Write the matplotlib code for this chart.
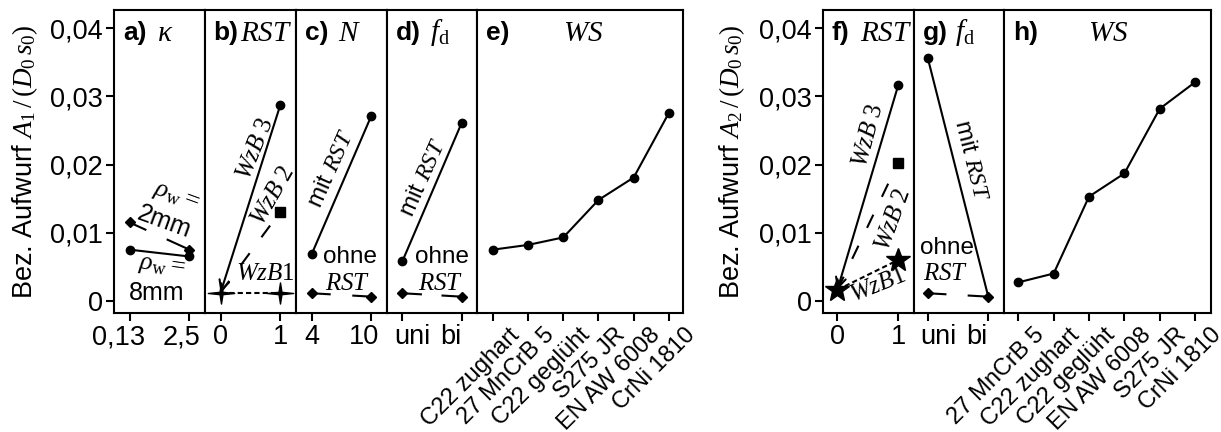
import numpy as np
import matplotlib
matplotlib.use("Agg")
import matplotlib.pyplot as plt
from matplotlib.path import Path
from matplotlib.transforms import ScaledTranslation

plt.rcParams["font.family"] = ["Liberation Sans", "DejaVu Sans"]
plt.rcParams["mathtext.fontset"] = "custom"
plt.rcParams["mathtext.rm"] = "Liberation Serif"
plt.rcParams["mathtext.it"] = "Liberation Serif:italic"
plt.rcParams["mathtext.bf"] = "Liberation Serif:bold"

# ---------------- data: left figure (A1) ----------------
kappa_ticks = ["0,13", "2,5"]
kappa_8mm = [0.0075, 0.0065]
kappa_2mm = [0.0115, 0.0075]

rst_ticks = ["0", "1"]
rst1_wzb3 = [0.0012, 0.0288]
rst1_wzb2 = [0.0012, 0.0131]
rst1_wzb1 = [0.0012, 0.0012]

n_ticks = ["4", "10"]
n_mit = [0.0068, 0.0272]
n_ohne = [0.0011, 0.0006]

fd_ticks = ["uni", "bi"]
fd1_mit = [0.0058, 0.0261]
fd1_ohne = [0.0011, 0.0006]

ws1_labels = ["C22 zughart", "27 MnCrB 5", "C22 geglüht", "S275 JR", "EN AW 6008", "CrNi 1810"]
ws1_values = [0.0075, 0.0082, 0.0093, 0.0148, 0.0181, 0.0276]

# ---------------- data: right figure (A2) ----------------
rst2_wzb3 = [0.0016, 0.0317]
rst2_wzb2 = [0.0016, 0.0203]
rst2_wzb1 = [0.0016, 0.0060]

fd2_mit = [0.0357, 0.0006]
fd2_ohne = [0.0011, 0.0006]

ws2_labels = ["27 MnCrB 5", "C22 zughart", "C22 geglüht", "EN AW 6008", "S275 JR", "CrNi 1810"]
ws2_values = [0.0027, 0.0040, 0.0153, 0.0187, 0.0282, 0.0321]

y_ticks = [0, 0.01, 0.02, 0.03, 0.04]
y_ticklabels = ["0", "0,01", "0,02", "0,03", "0,04"]

# ---------------- layout ----------------
W, H = 1221, 432
fig = plt.figure(figsize=(W / 100, H / 100), dpi=100)
TOP, BOT = 10, 313
YLIM = (-0.0018, 0.0427)
LW = 1.5
TICK_FS = 19.5
TXT_FS = 17.5
SER_FS = 18


def sparkle(n=4, inner=0.16, xstretch=1.25):
    k = np.arange(2 * n)
    ang = np.pi / 2 + k * np.pi / n
    r = np.where(k % 2 == 0, 1.0, inner)
    v = np.column_stack([xstretch * r * np.cos(ang), r * np.sin(ang)])
    v = np.vstack([v, v[:1]])
    return Path(v, closed=True)


SPARKLE = sparkle()


def panel(x0, x1, xlim, ticklabels, first=False, rotate=False, shifts=None):
    ax = fig.add_axes([x0 / W, 1 - BOT / H, (x1 - x0) / W, (BOT - TOP) / H])
    ax.set_xlim(*xlim)
    ax.set_ylim(*YLIM)
    for s in ax.spines.values():
        s.set_linewidth(LW)
    ax.set_xticks(range(len(ticklabels)))
    ax.tick_params(axis="both", direction="out", length=6, width=LW,
                   labelsize=TICK_FS, pad=2)
    if rotate:
        ax.set_xticklabels(ticklabels, rotation=45, ha="right",
                           rotation_mode="anchor", fontsize=17)
        shift = ScaledTranslation(11 / 72, 0, fig.dpi_scale_trans)
        for lab in ax.get_xticklabels():
            lab.set_transform(lab.get_transform() + shift)
    else:
        ax.set_xticklabels(ticklabels)
        if shifts:
            for lab, dx in zip(ax.get_xticklabels(), shifts):
                lab.set_transform(lab.get_transform()
                                  + ScaledTranslation(dx / 100, 0, fig.dpi_scale_trans))
    ax.set_yticks(y_ticks)
    if first:
        ax.set_yticklabels(y_ticklabels)
    else:
        ax.tick_params(axis="y", left=False, labelleft=False)
    return ax


def broken(ax, y, gap, **kw):
    """Line between the two points of y with a gap (fractions along the line)."""
    x = np.array([0.0, 1.0])
    y = np.asarray(y, float)
    for a, b in ((0.0, gap[0]), (gap[1], 1.0)):
        ax.plot(x[0] + np.array([a, b]) * (x[1] - x[0]),
                y[0] + np.array([a, b]) * (y[1] - y[0]), color="black", lw=LW,
                solid_capstyle="butt", **kw)


def arrow_line(ax, y, **kw):
    ax.annotate("", xy=(0, y[0]), xytext=(1, y[1]),
                arrowprops=dict(arrowstyle="->,head_length=0.6,head_width=0.3",
                                lw=LW, color="black", shrinkA=0, shrinkB=0,
                                mutation_scale=12, **kw))


def title(xl, xs, bold, sym):
    yc = 1 - 33 / H
    fig.text(xl / W, yc, bold, fontsize=19, fontweight="bold", ha="left", va="center")
    fig.text(xs / W, yc, sym, fontsize=21, ha="left", va="center")


def note(ax, x, y, s, rot=0, fs=TXT_FS):
    ax.text(x, y, s, fontsize=fs, rotation=rot, ha="center", va="center",
            rotation_mode="anchor")


two = (-0.26, 1.26)

# a) kappa
ax = panel(114, 205, two, kappa_ticks, first=True, shifts=[-11, -8])
ax.plot([0, 1], kappa_8mm, "-o", color="black", lw=LW, ms=6)
broken(ax, kappa_2mm, (0.28, 0.62))
ax.plot([0, 1], kappa_2mm, "D", color="black", ms=5.5)
note(ax, 0.78, 0.0153, r"$\rho_\mathrm{w} =$", -20, 19)
note(ax, 0.58, 0.0116, "2mm", -20, 18)
note(ax, 0.53, 0.0050, r"$\rho_\mathrm{w} =$", -8, 19)
note(ax, 0.45, 0.0012, "8mm", 0, 18)

# b) RST
ax = panel(205, 296, two, rst_ticks)
arrow_line(ax, rst1_wzb3)
ax.plot([1], rst1_wzb3[1:], "o", color="black", ms=6)
ax.plot([0, 1], rst1_wzb2, color="black", lw=LW, dashes=(7, 9.5), marker="s",
        ms=6.5, markevery=[1])
ax.plot([0, 1], rst1_wzb1, color="black", lw=LW, dashes=(2.5, 1.5))
ax.plot([0, 1], rst1_wzb1, ls="none", marker=SPARKLE, ms=19, color="black")
note(ax, 0.58, 0.0224, r"$WzB\ 3$", 68, SER_FS)
note(ax, 0.87, 0.0155, r"$WzB\ 2$", 60, SER_FS)
note(ax, 0.75, 0.0041, r"$WzB1$", 0, SER_FS)

# c) N
ax = panel(296, 387, two, n_ticks, shifts=[0, -7])
ax.plot([0, 1], n_mit, "-o", color="black", lw=LW, ms=6)
broken(ax, n_ohne, (0.32, 0.68))
ax.plot([0, 1], n_ohne, "D", color="black", ms=5.5)
note(ax, 0.34, 0.0193, r"mit $RST$", 66)
note(ax, 0.65, 0.0064, "ohne")
note(ax, 0.60, 0.0026, r"$RST$", 0, SER_FS)

# d) f_d
ax = panel(387, 477, two, fd_ticks, shifts=[10, -11])
ax.plot([0, 1], fd1_mit, "-o", color="black", lw=LW, ms=6)
broken(ax, fd1_ohne, (0.33, 0.66))
ax.plot([0, 1], fd1_ohne, "D", color="black", ms=5.5)
note(ax, 0.36, 0.0180, r"mit $RST$", 66)
note(ax, 0.67, 0.0064, "ohne")
note(ax, 0.64, 0.0026, r"$RST$", 0, SER_FS)

# e) WS
ax = panel(477, 683, (-0.45, 5.4), ws1_labels, rotate=True)
ax.plot(range(len(ws1_values)), ws1_values, "-o", color="black", lw=LW, ms=6)

# f) RST
ax = panel(823, 914, (-0.235, 1.257), rst_ticks, first=True)
arrow_line(ax, rst2_wzb3)
ax.plot([1], rst2_wzb3[1:], "o", color="black", ms=6)
ax.plot([0, 1], rst2_wzb2, color="black", lw=LW, dashes=(7, 9.5), marker="s",
        ms=6.5, markevery=[1])
ax.plot([0, 1], rst2_wzb1, color="black", lw=LW, dashes=(2.5, 1.5))
ax.plot([0, 1], rst2_wzb1, ls="none", marker="*", ms=18, color="black")
note(ax, 0.50, 0.0243, r"$WzB\ 3$", 75, SER_FS)
note(ax, 0.90, 0.0120, r"$WzB\ 2$", 70, SER_FS)
note(ax, 0.66, 0.0024, r"$WzB1$", 22, SER_FS)

# g) f_d
ax = panel(914, 1004, (-0.226, 1.26), fd_ticks, shifts=[11, -11])
ax.plot([0, 1], fd2_mit, "-o", color="black", lw=LW, ms=6, markevery=[0])
broken(ax, fd2_ohne, (0.31, 0.66))
ax.plot([0, 1], fd2_ohne, "D", color="black", ms=5.5)
note(ax, 0.71, 0.0207, r"mit $RST$", -76)
note(ax, 0.32, 0.0078, "ohne")
note(ax, 0.29, 0.0041, r"$RST$", 0, SER_FS)

# h) WS
ax = panel(1004, 1211, (-0.405, 5.45), ws2_labels, rotate=True)
ax.plot(range(len(ws2_values)), ws2_values, "-o", color="black", lw=LW, ms=6)

# panel titles
title(123, 157, "a)", r"$\kappa$")
title(213, 240, "b)", r"$RST$")
title(305, 338, "c)", r"$N$")
title(396, 430, "d)", r"$f_\mathrm{d}$")
title(486, 563, "e)", r"$WS$")
title(832, 860, "f)", r"$RST$")
title(923, 955, "g)", r"$f_\mathrm{d}$")
title(1013, 1088, "h)", r"$WS$")

# y axis labels
fig.text(25 / W, 1 - 162 / H, r"Bez. Aufwurf $A_1\,/\,(D_0\,s_0)$", fontsize=19.5,
         rotation=90, ha="center", va="center")
fig.text(732 / W, 1 - 162 / H, r"Bez. Aufwurf $A_2\,/\,(D_0\,s_0)$", fontsize=19.5,
         rotation=90, ha="center", va="center")

fig.savefig("out.png", dpi=100)
